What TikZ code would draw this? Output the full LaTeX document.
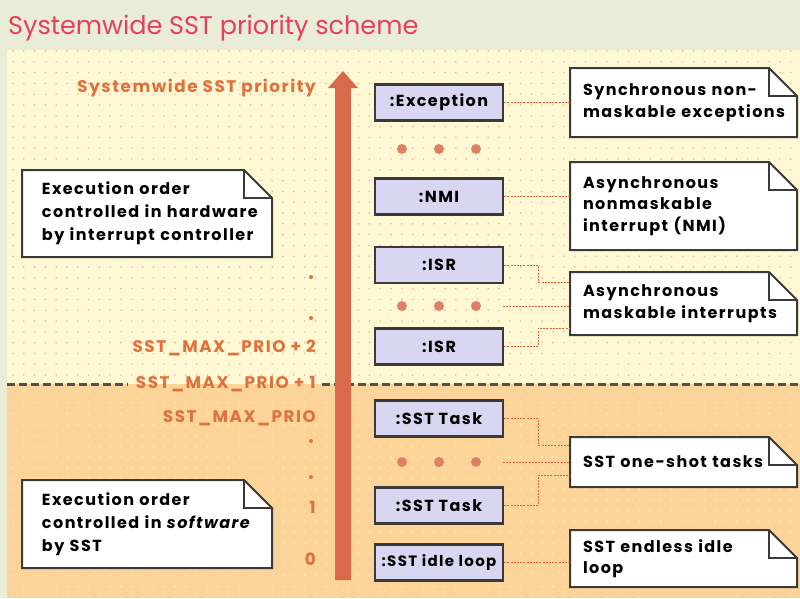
\documentclass[tikz,border=0pt]{standalone}
\usepackage{fontspec}
\setmainfont[LetterSpace=9]{Poppins}
\newfontfamily\titlefont{Poppins}
\definecolor{outerbg}{HTML}{E9EDD8}
\definecolor{upperbg}{HTML}{FFF8D4}
\definecolor{lowerbg}{HTML}{FCD49A}
\definecolor{updot}{HTML}{F6B49A}
\definecolor{lowdot}{HTML}{FFEFA0}
\definecolor{arrowc}{HTML}{D9694A}
\definecolor{boxfill}{HTML}{D8D6F0}
\definecolor{boxline}{HTML}{3A3A3A}
\definecolor{connc}{HTML}{E0603A}
\definecolor{labc}{HTML}{E0703C}
\definecolor{titlec}{HTML}{E84058}
\definecolor{dividerc}{HTML}{505050}
\pgfdeclarelayer{bgA}
\pgfdeclarelayer{bgB}
\pgfsetlayers{bgA,bgB,main}
\newcommand\drawnote[1]{%
  \begin{pgfonlayer}{bgB}
  \draw[noteline, fill=white] (#1.north west) -- ([xshift=-28pt]#1.north east) -- ([yshift=-28pt]#1.north east) -- (#1.south east) -- (#1.south west) -- cycle;
  \draw[noteline] ([xshift=-28pt]#1.north east) -- ([xshift=-28pt,yshift=-28pt]#1.north east) -- ([yshift=-28pt]#1.north east);
  \end{pgfonlayer}}
\begin{document}
\begin{tikzpicture}[x=1pt,y=-1pt,
  prio/.style={draw=boxline, line width=2.2pt, fill=boxfill, minimum width=128pt, minimum height=36pt, inner sep=0pt, font=\bfseries\fontsize{16}{18}\selectfont},
  notetext/.style={minimum width=#1, text width=#1-6pt, align=left, inner sep=0pt, outer sep=0pt, font=\bfseries\fontsize{16}{21.5}\selectfont},
  noteline/.style={draw=boxline, line width=2pt, line join=miter},
  conn/.style={draw=connc, line width=1pt, dash pattern=on 2pt off 1.2pt},
  lab/.style={anchor=east, text=labc, inner sep=0pt, font=\fontsize{16.8}{18}\selectfont\bfseries},
  bigdot/.style={fill=arrowc!85!white},
  smalldot/.style={fill=labc}
]
\useasboundingbox (0,0) rectangle (800,598);
\begin{pgfonlayer}{bgA}
\fill[outerbg] (0,0) rectangle (800,598);
\fill[upperbg] (7,50) rectangle (800,384);
\fill[lowerbg] (7,384) rectangle (800,598);
\foreach \i in {0,...,73}{
  \foreach \j in {0,...,30}{
    \fill[updot] (13+\i*10.8, 51+\j*10.8) circle (0.9pt);
  }
  \foreach \j in {0,...,19}{
    \fill[lowdot] (13+\i*10.8, 392+\j*10.8) circle (0.9pt);
  }
}
\draw[dividerc, line width=3pt, dash pattern=on 8pt off 4pt] (7,384) -- (128,384);
\draw[dividerc, line width=3pt, dash pattern=on 8pt off 4pt] (322,384) -- (800,384);
\end{pgfonlayer}

% title
\node[anchor=base west, inner sep=0pt, text=titlec, font=\titlefont\fontsize{25.5}{26}\selectfont] (title) at (8,34) {Systemwide SST priority scheme};

% arrow
\fill[arrowc] (335,580) -- (335,88) -- (328,88) -- (343,71) -- (358,88) -- (351,88) -- (351,580) -- cycle;

% left labels
\node[lab] (l0) at (316,88) {Systemwide SST priority};
\node[lab] (l1) at (316,348) {SST\_MAX\_PRIO + 2};
\node[lab] (l2) at (316,384) {SST\_MAX\_PRIO + 1};
\node[lab] (l3) at (316,418) {SST\_MAX\_PRIO};
\node[lab] (l4) at (316,507) {1};
\node[lab] (l5) at (316,559) {0};
\fill[smalldot] (311,277) circle (2pt);
\fill[smalldot] (311,318) circle (2pt);
\fill[smalldot] (311,441) circle (2pt);
\fill[smalldot] (311,477) circle (2pt);

% priority boxes
\node[prio] (exc) at (439,102.5) {:Exception};
\node[prio] (nmi) at (439,196.5) {:NMI};
\node[prio] (isra) at (439,265) {:ISR};
\node[prio] (isrb) at (439,346.5) {:ISR};
\node[prio] (taska) at (439,418.5) {:SST Task};
\node[prio] (taskb) at (439,505.5) {:SST Task};
\node[prio] (idle) at (439,562.5) {\fontsize{15}{18}\selectfont:SST idle loop};

% ellipsis dots
\foreach \y/\n in {149/a,306/b,462/c}{
  \fill[bigdot] (402,\y) circle (5pt);
  \fill[bigdot] (439,\y) circle (5pt);
  \fill[bigdot] (476,\y) circle (5pt);
  \coordinate (d\n) at (503,\y);
}

% right notes
\begin{scope}[every node/.append style={execute at begin node={\leftskip=10pt}}]
\node[notetext=227pt, minimum height=69pt] (na) at (683.5,102.5) {Synchronous non-\\maskable exceptions};
\node[notetext=227pt, minimum height=88pt] (nb) at (683.5,206) {Asynchronous\\nonmaskable\\interrupt (NMI)};
\node[notetext=227pt, minimum height=63pt] (nc) at (683.5,303.5) {Asynchronous\\maskable interrupts};
\node[notetext=227pt, minimum height=50pt] (nd) at (683.5,462) {SST one-shot tasks};
\node[notetext=227pt, minimum height=57pt] (ne) at (683.5,558.5) {SST endless idle\\loop};
\end{scope}
% left notes
\begin{scope}[every node/.append style={execute at begin node={\leftskip=17pt}}]
\node[notetext=250pt, minimum height=87pt, font=\bfseries\fontsize{16}{23}\selectfont] (hw) at (147,213.5) {Execution order\\controlled in hardware\\by interrupt controller};
\node[notetext=250pt, minimum height=88pt, font=\bfseries\fontsize{16}{23}\selectfont] (sw) at (147,524) {Execution order\\controlled in \emph{software}\\by SST};
\end{scope}
\drawnote{na}\drawnote{nb}\drawnote{nc}\drawnote{nd}\drawnote{ne}\drawnote{hw}\drawnote{sw}

% connectors
\draw[conn] (exc.east) -- (exc.east -| na.west);
\draw[conn] (nmi.east) -- (nmi.east -| nb.west);
\draw[conn] (isra.east) -- ++(34,0) |- ([yshift=21.5pt]nc.west);
\draw[conn] (db) -- (db -| nc.west);
\draw[conn] (isrb.east) -- ++(34,0) |- ([yshift=-24.5pt]nc.west);
\draw[conn] (taska.east) -- ++(34,0) |- ([yshift=17pt]nd.west);
\draw[conn] (dc) -- (dc -| nd.west);
\draw[conn] (taskb.east) -- ++(34,0) |- ([yshift=-13pt]nd.west);
\draw[conn] (idle.east) -- (idle.east -| ne.west);
\end{tikzpicture}
\end{document}
